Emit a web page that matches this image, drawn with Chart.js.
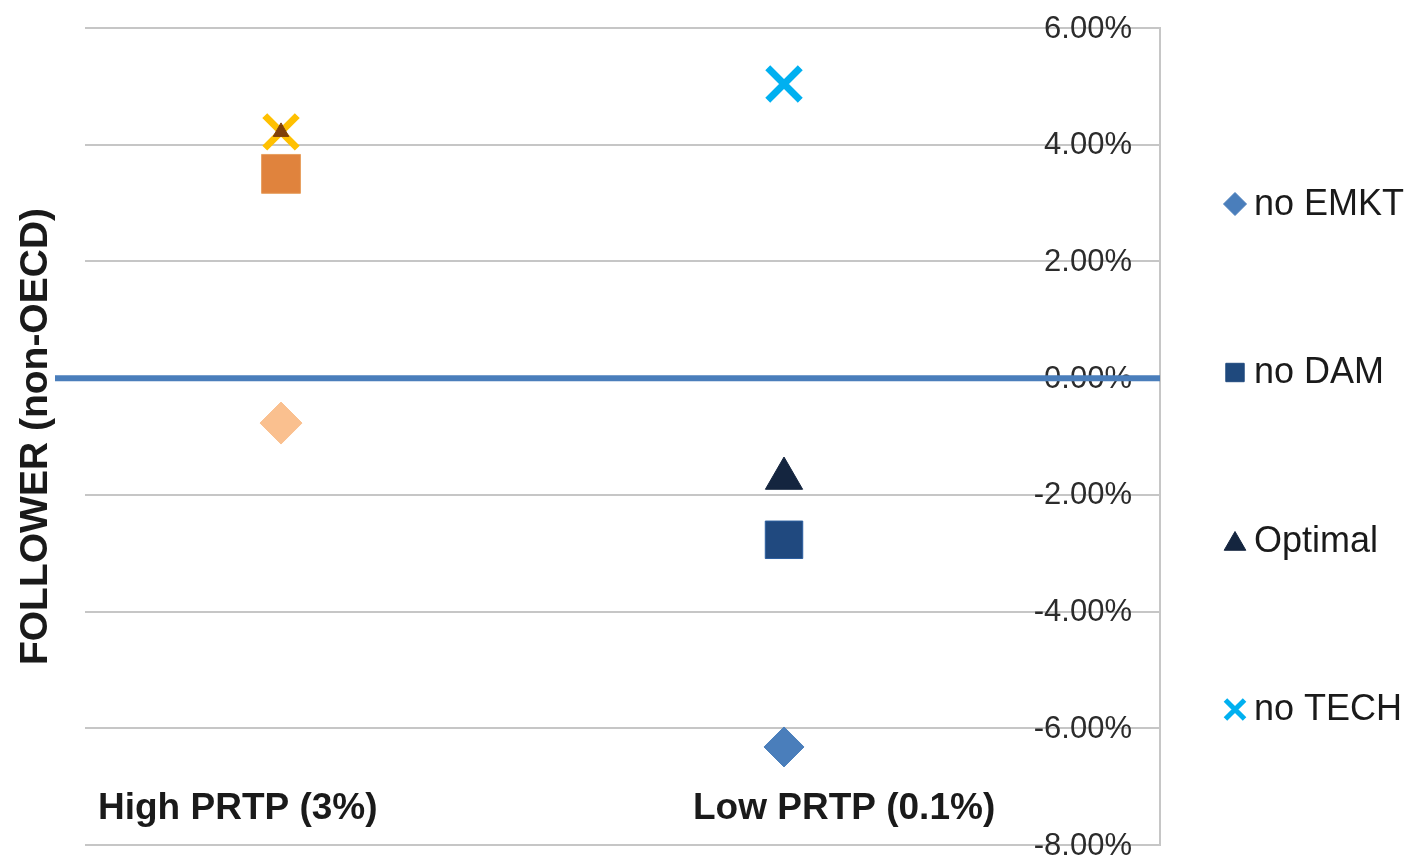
<!DOCTYPE html>
<html>
<head>
<meta charset="utf-8">
<title>FOLLOWER (non-OECD)</title>
<script src="https://cdn.jsdelivr.net/npm/chart.js@4/dist/chart.umd.min.js"></script>
<style>
  html, body { margin: 0; padding: 0; background: #ffffff; overflow: hidden; }
  #wrap { position: relative; width: 1409px; height: 855px; }
  #chart { display: block; width: 1409px; height: 855px; }
</style>
</head>
<body>
<div id="wrap"><canvas id="chart" width="1409" height="855"></canvas></div>
<script>
// Categories (discount-rate scenarios) and the series plotted for each
const categories = ['High PRTP (3%)', 'Low PRTP (0.1%)'];
const seriesNames = ['no EMKT', 'no DAM', 'Optimal', 'no TECH'];

// Values in percent, one per category
const noEMKT  = [-0.77, -6.32];
const noDAM   = [3.50, -2.77];
const optimal = [4.22, -1.72];
const noTECH  = [4.22, 5.04];

// Value-axis ticks (percent)
const yTicks = [-8, -6, -4, -2, 0, 2, 4, 6];

const FONT = '"Liberation Sans", Arial, Helvetica, sans-serif';

function toPoints(values) {
  return values.map((v, i) => ({ x: i, y: v }));
}

// Colours: first point in each series uses the orange family, second the blue family
const datasets = [
  {
    label: seriesNames[0],
    data: toPoints(noEMKT),
    pointStyle: 'rectRot',
    pointRadius: [21, 20],
    pointBackgroundColor: ['#fac08f', '#4a7ebb'],
    pointBorderColor: ['#fac08f', '#4a7ebb'],
    pointBorderWidth: 1,
    legendColor: '#4a7ebb'
  },
  {
    label: seriesNames[1],
    data: toPoints(noDAM),
    pointStyle: 'rect',
    pointRadius: [27.5, 26.5],
    pointBackgroundColor: ['#e0833d', '#20497f'],
    pointBorderColor: ['#e8a060', '#2c5fa0'],
    pointBorderWidth: 1,
    legendColor: '#1f497d'
  },
  {
    label: seriesNames[2],
    data: toPoints(optimal),
    pointStyle: 'triangle',
    pointRadius: [9, 21.5],
    pointBackgroundColor: ['#7f3f0a', '#14253f'],
    pointBorderColor: ['#7f3f0a', '#14253f'],
    pointBorderWidth: 1,
    legendColor: '#14253f'
  },
  {
    label: seriesNames[3],
    data: toPoints(noTECH),
    pointStyle: 'crossRot',
    pointRadius: [23, 23],
    pointBackgroundColor: ['#ffc000', '#00b0f0'],
    pointBorderColor: ['#ffc000', '#00b0f0'],
    pointBorderWidth: 7,
    legendColor: '#00b0f0'
  }
];

// Percent tick labels, drawn right-aligned just inside the plot area
const tickLabels = {
  id: 'tickLabels',
  beforeDatasetsDraw(chart) {
    const { ctx, chartArea, scales } = chart;
    ctx.save();
    ctx.font = '31px ' + FONT;
    ctx.fillStyle = '#2b2b2b';
    ctx.textAlign = 'right';
    ctx.textBaseline = 'middle';
    yTicks.forEach(t => {
      const y = scales.y.getPixelForValue(t);
      ctx.fillText(t.toFixed(2) + '%', chartArea.right - 28, y + 1);
    });
    ctx.restore();
  }
};

// Horizontal zero line, reaching a little past the plot's left edge
const zeroLine = {
  id: 'zeroLine',
  beforeDatasetsDraw(chart) {
    const { ctx, chartArea, scales } = chart;
    const y = scales.y.getPixelForValue(0);
    ctx.save();
    ctx.strokeStyle = '#4a7ebb';
    ctx.lineWidth = 6;
    ctx.beginPath();
    ctx.moveTo(chartArea.left - 30, y);
    ctx.lineTo(chartArea.right, y);
    ctx.stroke();
    ctx.restore();
  }
};

// Category names, axis title and the legend column
const annotations = {
  id: 'annotations',
  afterDraw(chart) {
    const { ctx, chartArea } = chart;
    ctx.save();

    // category names near the bottom of the plot
    ctx.font = 'bold 37px ' + FONT;
    ctx.fillStyle = '#1a1a1a';
    ctx.textAlign = 'left';
    ctx.textBaseline = 'alphabetic';
    const catX = [chartArea.left + 13, chartArea.left + 608];
    categories.forEach((c, i) => ctx.fillText(c, catX[i], 819));

    // value-axis title
    ctx.save();
    ctx.translate(47, (chartArea.top + chartArea.bottom) / 2);
    ctx.rotate(-Math.PI / 2);
    ctx.font = 'bold 39px ' + FONT;
    ctx.textAlign = 'center';
    ctx.textBaseline = 'alphabetic';
    ctx.fillText('FOLLOWER (non-OECD)', 0, 0);
    ctx.restore();

    // legend
    const legendRadius = [11.5, 13, 12.5, 13.5];
    const y0 = 204, step = 168.5;
    datasets.forEach((ds, i) => {
      const y = y0 + i * step;
      const mx = 1235;
      ctx.fillStyle = ds.legendColor;
      ctx.strokeStyle = ds.legendColor;
      ctx.lineWidth = ds.pointStyle === 'crossRot' ? 5 : 1;
      Chart.helpers.drawPoint(ctx, {
        pointStyle: ds.pointStyle,
        radius: legendRadius[i],
        rotation: 0,
        borderWidth: ctx.lineWidth
      }, mx, ds.pointStyle === 'triangle' ? y + 3 : y);
      ctx.fillStyle = '#1a1a1a';
      ctx.font = '36px ' + FONT;
      ctx.textAlign = 'left';
      ctx.textBaseline = 'middle';
      ctx.fillText(ds.label, 1254, y + 1);
    });
    ctx.restore();
  }
};

new Chart(document.getElementById('chart'), {
  type: 'scatter',
  data: { datasets },
  options: {
    responsive: false,
    maintainAspectRatio: false,
    animation: false,
    events: [],
    layout: { autoPadding: false, padding: { left: 85, right: 249, top: 28, bottom: 10 } },
    plugins: {
      legend: { display: false },
      tooltip: { enabled: false }
    },
    scales: {
      x: {
        type: 'linear',
        display: false,
        min: -0.3897,
        max: 1.7475
      },
      y: {
        type: 'linear',
        position: 'right',
        min: -8,
        max: 6,
        afterBuildTicks(scale) {
          scale.ticks = yTicks.map(v => ({ value: v }));
        },
        grid: {
          color: '#c6c6c6',
          lineWidth: 2,
          drawTicks: false
        },
        border: { display: true, color: '#c6c6c6', width: 2 },
        ticks: { display: false }
      }
    }
  },
  plugins: [tickLabels, zeroLine, annotations]
});
</script>
</body>
</html>
